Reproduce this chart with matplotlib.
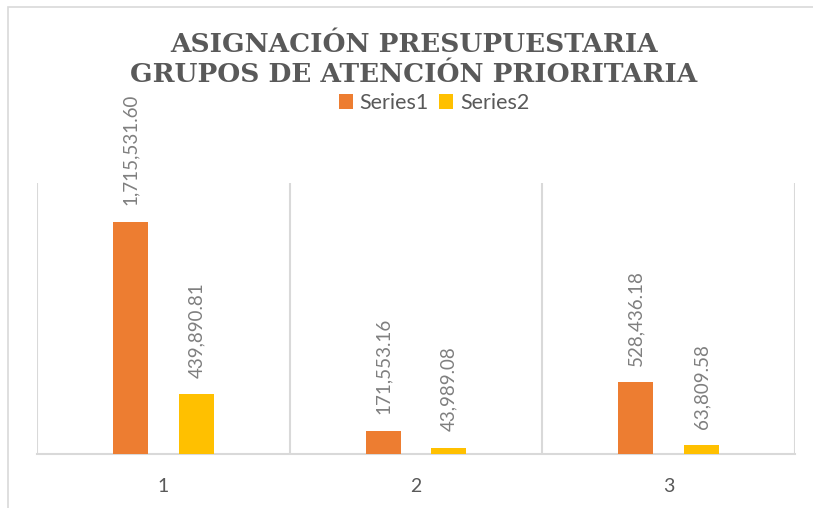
import numpy as np
import matplotlib
matplotlib.use("Agg")
import matplotlib.pyplot as plt
from matplotlib.patches import Rectangle

# data
categories = ["1", "2", "3"]
series1 = [1715531.60, 171553.16, 528436.18]
series2 = [439890.81, 43989.08, 63809.58]
series_names = ["Series1", "Series2"]
title_lines = ["ASIGNACIÓN PRESUPUESTARIA", "GRUPOS DE ATENCIÓN PRIORITARIA"]

orange = "#ED7D31"
yellow = "#FFC000"
grid_col = "#D9D9D9"
text_col = "#595959"
label_col = "#7F7F7F"

W, H = 813, 508
fig = plt.figure(figsize=(W / 100, H / 100), dpi=100)

# chart border
fig.add_artist(Rectangle((7.5 / W, -0.01), 1.1, (H - 6.5) / H + 0.01, transform=fig.transFigure,
                         fill=False, edgecolor=grid_col, lw=1.2))

ax = fig.add_axes([37 / W, (H - 454) / H, (795 - 37) / W, (454 - 183) / H])

x = np.arange(1, len(categories) + 1)
bw = 0.138
off = 0.13
b1 = ax.bar(x - off, series1, bw, color=orange, label=series_names[0], zorder=3)
b2 = ax.bar(x + off, series2, bw, color=yellow, label=series_names[1], zorder=3)

for bars, vals in ((b1, series1), (b2, series2)):
    for rect, v in zip(bars, vals):
        ax.annotate(f"{v:,.2f}", (rect.get_x() + rect.get_width() / 2, rect.get_height()),
                    xytext=(0, 12), textcoords="offset points", rotation=90,
                    ha="center", va="bottom", fontsize=13.5, color=label_col,
                    family="Lato")

ax.set_xlim(0.5, len(categories) + 0.5)
ax.set_ylim(0, 2000000)
ax.set_yticks([])
ax.set_xticks(x)
ax.set_xticklabels(categories, fontsize=14, color=text_col, family="Lato")
ax.tick_params(axis="x", length=0, pad=17)
for s in ("top", "left", "right"):
    ax.spines[s].set_visible(False)
ax.spines["bottom"].set_color(grid_col)
ax.spines["bottom"].set_linewidth(1.5)
for b in np.arange(0.5, len(categories) + 1, 1.0):
    ax.axvline(b, color=grid_col, lw=1.5, zorder=1)

fig.text(414 / W, 1 - 44 / H, title_lines[0], ha="center", va="center", fontsize=19,
         fontweight="bold", family="DejaVu Serif", color=text_col)
fig.text(414 / W, 1 - 75 / H, title_lines[1], ha="center", va="center", fontsize=19,
         fontweight="bold", family="DejaVu Serif", color=text_col)

fig.legend(loc="center", bbox_to_anchor=(434 / W, 1 - 103 / H), ncol=2, frameon=False,
           prop={"family": "Lato", "size": 15.5}, labelcolor=text_col,
           handlelength=0.65, handleheight=0.65, handletextpad=0.3, columnspacing=0.5)

fig.savefig("out.png", dpi=100)
